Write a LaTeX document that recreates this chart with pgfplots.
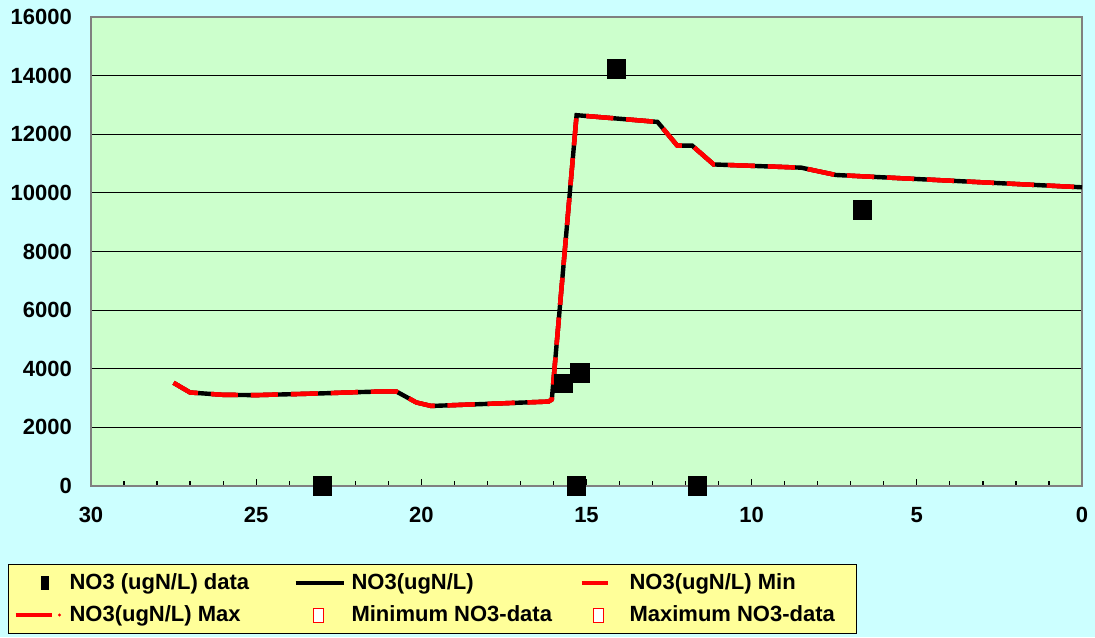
\documentclass[border=0pt]{standalone}
\usepackage{pgfplots}
\pgfplotsset{compat=1.18}
\usepackage{fontspec}
\setmainfont{Liberation Sans}
\definecolor{bgc}{HTML}{CCFFFF}
\definecolor{plotc}{HTML}{CCFFCC}
\definecolor{legc}{HTML}{FFFF99}
\definecolor{myred}{HTML}{FF0000}
\begin{document}
\begin{tikzpicture}[x=1pt,y=1pt]
\fill[bgc] (0,0) rectangle (547.5,318.5);
\begin{axis}[
  at={(45.5pt,75.5pt)}, anchor=south west,
  scale only axis, width=495.5pt, height=234.5pt,
  x dir=reverse, xmin=0, xmax=30, ymin=0, ymax=16000,
  xtick={0,5,...,30}, minor x tick num=4,
  ytick={0,2000,...,16000},
  ymajorgrids, major grid style={black, line width=0.6pt},
  axis background/.style={fill=plotc},
  axis line style={gray, line width=0.6pt},
  tick align=inside, major tick length=3.5pt, minor tick length=2.5pt,
  xtick pos=bottom, ytick pos=left,
  ytick style={draw=none},
  xtick style={black, line width=0.6pt},
  minor tick style={black, line width=0.6pt},
  tick label style={font=\bfseries\fontsize{11}{13}\selectfont},
  xticklabel style={yshift=-7pt},
  yticklabel style={xshift=-6pt},
  scaled y ticks=false,
  /pgf/number format/assume math mode=true,
  /pgf/number format/set thousands separator={},
  clip=false,
  legend columns=3,
  legend cell align=left,
  legend style={at={(-0.0838,-0.1663)}, anchor=north west, fill=legc, draw=black,
    line width=0.6pt, font=\bfseries\fontsize{11}{13}\selectfont,
    column sep=1pt, row sep=2.5pt, inner sep=2.5pt},
]
% main line
\addplot[black, line width=2.2pt, forget plot] coordinates {
(27.5,3520) (27.0,3190) (26.0,3110) (25.0,3100) (24.0,3130) (23.0,3160)
(22.0,3200) (21.0,3230) (20.75,3220) (20.15,2850) (19.7,2730) (16.15,2880)
(16.05,2950) (15.3,12650) (12.85,12420) (12.25,11610) (11.8,11610)
(11.15,10970) (8.5,10860) (7.45,10610) (4.6,10450) (0,10190)
};
% Min
\addplot[myred, line width=2.2pt, dash pattern=on 13.5pt off 6.5pt, forget plot] coordinates {
(27.5,3520) (27.0,3190) (26.0,3110) (25.0,3100) (24.0,3130) (23.0,3160)
(22.0,3200) (21.0,3230) (20.75,3220) (20.15,2850) (19.7,2730) (16.15,2880)
(16.05,2950) (15.3,12650) (12.85,12420) (12.25,11610) (11.8,11610)
(11.15,10970) (8.5,10860) (7.45,10610) (4.6,10450) (0,10190)
};
% Max
\addplot[myred, line width=2.2pt, dash pattern=on 13.5pt off 6.5pt, forget plot] coordinates {
(27.5,3520) (27.0,3190) (26.0,3110) (25.0,3100) (24.0,3130) (23.0,3160)
(22.0,3200) (21.0,3230) (20.75,3220) (20.15,2850) (19.7,2730) (16.15,2880)
(16.05,2950) (15.3,12650) (12.85,12420) (12.25,11610) (11.8,11610)
(11.15,10970) (8.5,10860) (7.45,10610) (4.6,10450) (0,10190)
};
% data
\addplot[only marks, mark=square*, mark size=4.6pt, black, forget plot] coordinates {
(23.0,0) (15.3,0) (11.65,0) (15.7,3510) (15.2,3860) (14.1,14230) (6.65,9420)
};
% legend
\addlegendimage{legend image code/.code={\path[draw=none,fill=none] (0pt,-3pt) rectangle (24pt,3pt); \fill[black, draw=none] (12.5pt,-3.5pt) rectangle (16.5pt,3.5pt);}}
\addlegendentry{\makebox[109pt][l]{NO3 (ugN/L) data}}
\addlegendimage{legend image code/.code={\path[draw=none,fill=none] (0pt,-3pt) rectangle (24pt,3pt); \draw[black, line width=2pt] (0pt,0pt) -- (24pt,0pt);}}
\addlegendentry{\makebox[109pt][l]{NO3(ugN/L)}}
\addlegendimage{legend image code/.code={\path[draw=none,fill=none] (0pt,-3pt) rectangle (24pt,3pt); \draw[myred, line width=2pt] (3pt,0pt) -- (16pt,0pt);}}
\addlegendentry{\makebox[109pt][l]{NO3(ugN/L) Min}}
\addlegendimage{legend image code/.code={\path[draw=none,fill=none] (0pt,-3pt) rectangle (24pt,3pt); \draw[myred, line width=2pt] (0pt,0pt) -- (18pt,0pt); \fill[myred, draw=none] (22pt,0pt) circle (0.8pt);}}
\addlegendentry{\makebox[109pt][l]{NO3(ugN/L) Max}}
\addlegendimage{legend image code/.code={\path[draw=none,fill=none] (0pt,-3pt) rectangle (24pt,3pt); \draw[draw=myred, fill=white, line width=0.5pt] (9pt,-3.5pt) rectangle (14pt,3.5pt);}}
\addlegendentry{\makebox[109pt][l]{Minimum NO3-data}}
\addlegendimage{legend image code/.code={\path[draw=none,fill=none] (0pt,-3pt) rectangle (24pt,3pt); \draw[draw=myred, fill=white, line width=0.5pt] (9pt,-3.5pt) rectangle (14pt,3.5pt);}}
\addlegendentry{\makebox[109pt][l]{Maximum NO3-data}}
\end{axis}
\end{tikzpicture}
\end{document}
